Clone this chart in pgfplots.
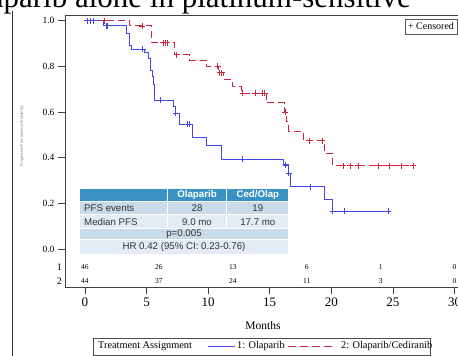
\documentclass[border=0pt]{standalone}
\usepackage{pgfplots}
\pgfplotsset{compat=1.18}
\usepackage{fontspec}
\setmainfont{Liberation Serif}
\newfontfamily\arial{Liberation Sans}
\definecolor{kmblue}{HTML}{4646E8}
\definecolor{kmred}{HTML}{C8283C}
\definecolor{hdr}{HTML}{3A92C4}
\definecolor{rowA}{HTML}{C9DAEA}
\definecolor{rowB}{HTML}{E3EBF4}
\definecolor{txt}{HTML}{333333}

\pgfplotstableread{
x y
0 1.0
1.54 0.978
3.4 0.943
3.6 0.892
3.75 0.876
4.87 0.863
5.14 0.834
5.28 0.805
5.36 0.783
5.5 0.754
5.58 0.72
5.68 0.653
7.17 0.624
7.31 0.595
7.65 0.548
8.77 0.488
9.88 0.456
11.1 0.394
16.1 0.369
16.5 0.332
16.7 0.274
19.48 0.219
20.1 0.167
24.6 0.167
}\olap

\pgfplotstableread{
x y
0.16 1.0
0.41 1.0
0.65 1.0
1.7 0.978
1.85 0.978
4.7 0.876
6.1 0.653
7.37 0.595
8.3 0.548
8.47 0.548
12.77 0.394
16.3 0.369
16.55 0.332
18.34 0.274
20.1 0.167
21.1 0.167
24.6 0.167
}\olapcens

\pgfplotstableread{
x y
0 1.0
3.6 0.977
5.41 0.904
7.3 0.852
8.52 0.828
9.88 0.80
10.82 0.773
11.28 0.744
11.96 0.711
12.72 0.682
14.7 0.641
16.2 0.60
16.35 0.558
16.55 0.517
17.7 0.475
19.45 0.42
20.13 0.366
26.75 0.366
}\cedolap

\pgfplotstableread{
x y
1.57 1.0
4.67 0.977
6.36 0.904
6.55 0.904
6.7 0.904
7.44 0.852
10.78 0.80
10.95 0.773
11.1 0.773
12.8 0.682
13.8 0.682
14.4 0.682
14.6 0.682
16.25 0.60
18.2 0.475
19.26 0.475
20.94 0.366
21.57 0.366
22.16 0.366
23.78 0.366
24.73 0.366
25.67 0.366
26.62 0.366
}\cedolapcens

\pgfplotstableread{
x y n
0 -0.0787 46
6 -0.0787 26
12 -0.0787 13
18 -0.0787 6
24 -0.0787 1
30 -0.0787 0
0 -0.139 44
6 -0.139 37
12 -0.139 24
18 -0.139 11
24 -0.139 3
30 -0.139 0
}\atrisk

\begin{document}
\begin{tikzpicture}
\useasboundingbox (0,0) rectangle (458pt,356pt);
\clip (0,0) rectangle (458pt,356pt);
\fill[white] (0,0) rectangle (458pt,356pt);
\begin{axis}[
  at={(65pt,68.7pt)}, anchor=south west,
  scale only axis, width=395.7pt, height=272.3pt,
  xmin=-1.62, xmax=30.5, ymin=-0.166, ymax=1.025,
  xtick={0,5,10,15,20,25,30},
  ytick={0,0.2,0.4,0.6,0.8,1.0},
  tick pos=left, tick align=outside,
  major tick length=7pt,
  axis line style={black!75, line width=0.9pt},
  every tick/.style={black!75, line width=0.8pt},
  /pgf/number format/assume math mode=true,
  yticklabel style={font=\fontsize{9.5}{10}\selectfont, /pgf/number format/.cd, fixed, fixed zerofill, precision=1},
  xticklabel style={font=\fontsize{13}{14}\selectfont},
  clip=false,
]
\addplot[const plot, kmred, line width=1pt, dash pattern=on 7pt off 4pt, mark=none] table {\cedolap};
\addplot[only marks, kmred, mark=+, mark size=3pt, mark options={line width=0.8pt}] table {\cedolapcens};
\addplot[const plot, kmblue, line width=1pt, mark=none] table {\olap};
\addplot[only marks, kmblue, mark=+, mark size=3pt, mark options={line width=0.8pt}] table {\olapcens};
\addplot[draw=none, mark=none, nodes near coords, nodes near coords align={center},
  point meta=explicit symbolic,
  every node near coord/.style={font=\fontsize{7.5}{8}\selectfont, text=black, inner sep=0pt}]
  table[meta=n] {\atrisk};
\end{axis}
\begin{scope}[yshift=356pt, x=1pt, y=-1pt]
\draw[black!80, line width=0.8pt] (12,11)--(12,360);
\node[anchor=base east, font=\fontsize{31}{31}\selectfont, inner sep=0] at (411,8) {olaparib alone in platinum-sensitive};
\node[rotate=90, font=\fontsize{4}{4}\selectfont, text=black!55] at (22,136) {Progression-Free Survival Probability};
\node[anchor=east, font=\fontsize{10}{10}\selectfont, inner sep=0] at (62,267.3) {1};
\node[anchor=east, font=\fontsize{10}{10}\selectfont, inner sep=0] at (62,281) {2};
\node[font=\fontsize{11.5}{12}\selectfont] at (263,326) {Months};
% censored box
\draw[black!65, line width=0.9pt, fill=white] (405,19) rectangle (457,34);
\node[font=\fontsize{10}{10}\selectfont, inner sep=0] at (431,26.5) {+ Censored};
% table
\fill[white] (78,186) rectangle (290,256);
\fill[hdr] (80,188.7) rectangle (167,201);
\fill[hdr] (168.3,188.7) rectangle (226.3,201);
\fill[hdr] (227.3,188.7) rectangle (288.3,201);
\fill[rowA] (80,202.5) rectangle (167,214.3);
\fill[rowA] (168.3,202.5) rectangle (226.3,214.3);
\fill[rowA] (227.3,202.5) rectangle (288.3,214.3);
\fill[rowB] (80,215.5) rectangle (167,228);
\fill[rowB] (168.3,215.5) rectangle (226.3,228);
\fill[rowB] (227.3,215.5) rectangle (288.3,228);
\fill[rowA] (80,229.3) rectangle (288.3,239.3);
\fill[rowB] (80,240.5) rectangle (288.3,253.7);
\begin{scope}[every node/.style={font=\arial\fontsize{9.7}{10}\selectfont, text=txt, inner sep=0}]
\node[text=white, font=\arial\bfseries\fontsize{9.7}{10}\selectfont] at (197,195) {Olaparib};
\node[text=white, font=\arial\bfseries\fontsize{9.7}{10}\selectfont] at (257.8,195) {Ced/Olap};
\node[anchor=west] at (84,208.5) {PFS events};
\node at (197,208.5) {28};
\node at (257.8,208.5) {19};
\node[anchor=west] at (84,221.8) {Median PFS};
\node at (197,221.8) {9.0 mo};
\node at (257.8,221.8) {17.7 mo};
\node at (184,234.3) {p=0.005};
\node at (184,247.1) {HR 0.42 (95\% CI: 0.23-0.76)};
\end{scope}
% legend
\draw[black!70, line width=0.8pt] (93,338) rectangle (430,355);
\node[anchor=west, font=\fontsize{10.3}{11}\selectfont, inner sep=0] at (98,346.5) {Treatment Assignment};
\draw[kmblue, line width=1pt] (208,346.5)--(235,346.5);
\node[anchor=west, font=\fontsize{10.3}{11}\selectfont, inner sep=0] at (237,346.5) {1: Olaparib};
\draw[kmred, line width=1pt, dash pattern=on 8pt off 4pt] (288,346.5)--(336,346.5);
\node[anchor=west, font=\fontsize{10.3}{11}\selectfont, inner sep=0] at (341,346.5) {2: Olaparib/Cediranib};
\end{scope}
\end{tikzpicture}
\end{document}
